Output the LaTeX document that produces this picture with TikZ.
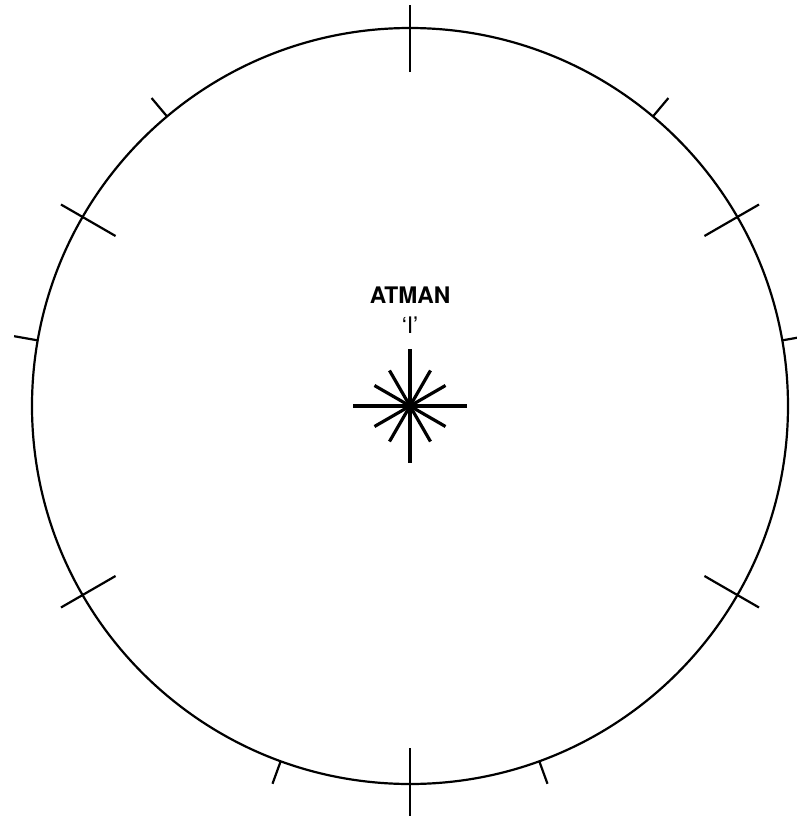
\documentclass[tikz,border=0pt]{standalone}
\usepackage{fontspec}
\setmainfont{TeX Gyre Heros}
\usepackage{tikz}
\usetikzlibrary{positioning,calc}

\begin{document}
\begin{tikzpicture}[
  x=0.5pt, y=0.5pt,
  rim/.style={line width=1.1pt},
  tick/.style={line width=1.1pt},
  ray/.style={line width=1.6pt},
  lbl/.style={inner sep=0pt, font=\fontsize{11.4}{13}\selectfont}
]
  \useasboundingbox (-410,-410) rectangle (387,406);
  \coordinate (c) at (0,0);

  % wheel
  \draw[rim] (c) circle (378);

  % short ticks, outside only
  \foreach \a in {10,50,130,170,250,290}
    \draw[tick] ($(c)+(\a:378)$) -- ($(c)+(\a:402)$);

  % long ticks across the rim
  \foreach \a in {30,150,210,330}
    \draw[tick] ($(c)+(\a:340)$) -- ($(c)+(\a:403)$);
  \draw[tick] ($(c)+(90:334)$) -- ($(c)+(90:401)$);
  \draw[tick] ($(c)+(270:342)$) -- ($(c)+(270:412)$);

  % star in the centre
  \foreach \a in {0,90,180,270}
    \draw[ray] (c) -- ($(c)+(\a:57)$);
  \foreach \a in {30,60,120,150,210,240,300,330}
    \draw[ray] (c) -- ($(c)+(\a:41)$);

  % label
  \node[lbl, font=\fontsize{11.4}{13}\selectfont\bfseries] (atman) at (0,110.5) {ATMAN};
  \node[lbl] (self) at (0,81) {‘I’};
\end{tikzpicture}
\end{document}
